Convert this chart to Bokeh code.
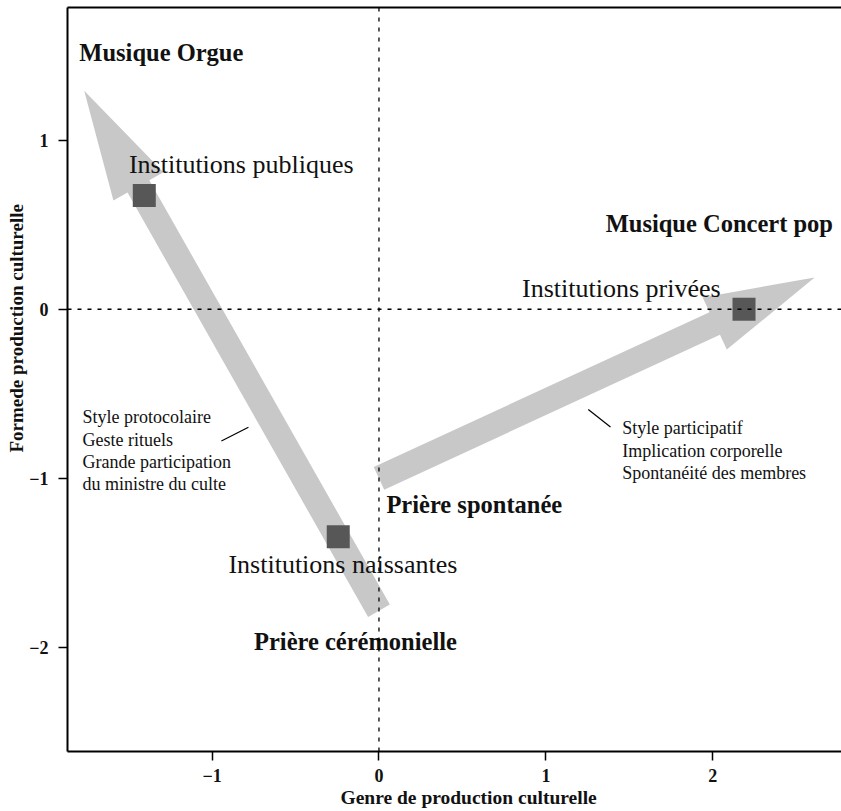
import math
from bokeh.plotting import figure
from bokeh.models import (ColumnDataSource, Span, LinearAxis, FixedTicker,
                          Range1d, Title)
from bokeh.core.properties import value
from bokeh.embed import file_html
from bokeh.resources import INLINE

# ---------------- data ----------------
point_names = ["Institutions publiques", "Institutions privées", "Institutions naissantes"]
point_x = [-1.406, 2.187, -0.244]
point_y = [0.672, 0.0, -1.345]

arrow_x_start = [0.0, 0.0]
arrow_y_start = [-1.783, -1.0]
arrow_x_end = [-1.766, 2.61]
arrow_y_end = [1.292, 0.188]

x_ticks = [-1, 0, 1, 2]
y_ticks = [-2, -1, 0, 1]
tick_text = {-2: "\u22122", -1: "\u22121", 0: "0", 1: "1", 2: "2"}

x_title = "Genre de production culturelle"
y_title = "Formede production culturelle"

pole_labels = ["Musique Orgue", "Musique Concert pop", "Prière spontanée", "Prière cérémonielle"]
left_note = ["Style protocolaire", "Geste rituels", "Grande participation", "du ministre du culte"]
right_note = ["Style participatif", "Implication corporelle", "Spontanéité des membres"]

# ---------------- layout ----------------
X0, X1 = -1.866, 2.771
Y0, Y1 = -2.615, 1.784
W, H = 841, 811
BL, BR, BT, BB = 67, 0, 7, 60
FW = W - BL - BR
FH = H - BT - BB
kx = FW / (X1 - X0)
ky = FH / (Y1 - Y0)

FONT = "Liberation Serif"
INK = "#111111"

p = figure(width=W, height=H, output_backend="svg", toolbar_location=None,
           x_range=Range1d(X0, X1), y_range=Range1d(Y0, Y1),
           min_border_left=BL, min_border_right=BR, min_border_top=BT,
           min_border_bottom=BB)
p.xgrid.visible = False
p.ygrid.visible = False
p.outline_line_color = None
p.background_fill_color = "white"
p.border_fill_color = "white"

# axes
for ax, ticks in ((p.xaxis[0], x_ticks), (p.yaxis[0], y_ticks)):
    ax.ticker = FixedTicker(ticks=ticks)
    ax.major_label_overrides = {t: tick_text[t] for t in ticks}
    ax.major_tick_out = 9
    ax.major_tick_in = 0
    ax.minor_tick_out = 0
    ax.minor_tick_in = 0
    ax.axis_line_width = 2
    ax.axis_line_color = "black"
    ax.major_tick_line_width = 1.5
    ax.major_tick_line_color = "black"
    ax.major_label_text_font = FONT
    ax.major_label_text_font_style = "bold"
    ax.major_label_text_font_size = "18px"
    ax.major_label_text_color = INK
p.xaxis[0].major_label_standoff = 8
p.yaxis[0].major_label_standoff = 10

top_axis = LinearAxis(ticker=FixedTicker(ticks=[]), major_tick_out=0, major_tick_in=0,
                      minor_tick_out=0, minor_tick_in=0, major_label_standoff=0,
                      axis_label_standoff=0, axis_line_width=2, axis_line_color="black")
p.add_layout(top_axis, "above")

# axis titles (off-centre, as in the original)
p.add_layout(Title(text=x_title, align="left", offset=273, standoff=0,
                   text_font=FONT, text_font_style="bold", text_font_size="19.5px",
                   text_color=INK), "below")
p.add_layout(Title(text=y_title, align="left", offset=299, standoff=0,
                   text_font=FONT, text_font_style="bold", text_font_size="19px",
                   text_color=INK), "left")

# ---------------- arrows (polygons from start/end) ----------------
SHAFT = 25.0
HEAD_W = 57.5
HEAD_L = 110.0
xs, ys = [], []
for x0, y0, x1, y1 in zip(arrow_x_start, arrow_y_start, arrow_x_end, arrow_y_end):
    dx, dy = (x1 - x0) * kx, (y1 - y0) * ky
    L = math.hypot(dx, dy)
    ux, uy = dx / L, dy / L
    nx, ny = -uy, ux
    pts = [(0, SHAFT / 2), (L - HEAD_L, SHAFT / 2), (L - HEAD_L, HEAD_W / 2), (L, 0),
           (L - HEAD_L, -HEAD_W / 2), (L - HEAD_L, -SHAFT / 2), (0, -SHAFT / 2)]
    xs.append([x0 + (a * ux + b * nx) / kx for a, b in pts])
    ys.append([y0 + (a * uy + b * ny) / ky for a, b in pts])
p.patches(xs, ys, fill_color="#c7c8c7", line_color=None)

# dashed reference lines
p.add_layout(Span(location=0, dimension="width", line_color="black", line_width=1.3,
                  line_dash="4 6", level="glyph"))
p.add_layout(Span(location=0, dimension="height", line_color="black", line_width=1.3,
                  line_dash="4 6", level="glyph"))

# square points
src = ColumnDataSource(dict(x=point_x, y=point_y, name=point_names))
p.scatter("x", "y", source=src, marker="square", size=23, fill_color="#575757",
          line_color=None)

# ---------------- labels ----------------
def txt(x, y, s, size, bold=False, align="center", dy=-8):
    p.text(x=x, y=y, text=s, text_font=value(FONT), text_font_size=size,
           text_font_style="bold" if bold else "normal", text_color=INK,
           text_align=align, text_baseline="alphabetic", y_offset=dy)

# institution labels
txt([-0.825, 1.452, -0.216], [0.809, 0.073, -1.554], point_names, "26px")

# poles
txt([-1.304, 2.039, 0.571, -0.141], [1.473, 0.457, -1.199, -2.012], pole_labels,
    "24.5px", bold=True)

# notes (one entry per line, 22.4 px apart)
LS = 22.4 / ky
txt([-1.776] * len(left_note), [-0.674 - i * LS for i in range(len(left_note))],
    left_note, "18px", align="left", dy=-6)
txt([1.457] * len(right_note), [-0.739 - i * LS for i in range(len(right_note))],
    right_note, "18px", align="left", dy=-6)

p.segment(x0=[-0.944, 1.254], y0=[-0.779, -0.593], x1=[-0.782, 1.387], y1=[-0.698, -0.696],
          line_color="black", line_width=1.2)

open("out.html", "w").write(file_html(p, INLINE))
